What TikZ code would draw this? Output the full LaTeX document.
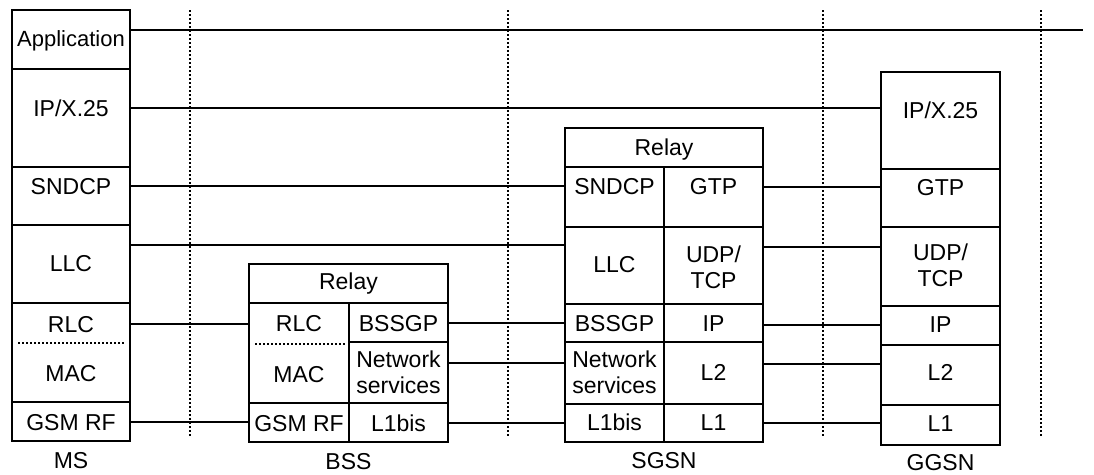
\documentclass[tikz,border=0pt]{standalone}
\usepackage{fontspec}
\setmainfont{Liberation Sans}
\newcommand\mkcell[5]{\node[cellbox, minimum width={(#4-#2)*1pt}, minimum height={(#5-#3)*1pt}] (#1) at (#2,#3) {};}
\begin{document}
\begin{tikzpicture}[x=1pt,y=-1pt,
  cellbox/.style={draw, line width=2pt, inner sep=0pt, outer sep=0pt, anchor=north west},
  txt/.style={font=\fontsize{23}{26}\selectfont, inner sep=0pt, align=center, anchor=base},
  conn/.style={line width=1.8pt},
  vsep/.style={line width=1.3pt, dash pattern=on 1.5pt off 2.5pt},
  hdiv/.style={line width=1.4pt, dash pattern=on 1.5pt off 2.5pt}]
\useasboundingbox (0,0) rectangle (1094,474);

% dotted separators
\foreach \xx in {190,508,823,1041} { \draw[vsep] (\xx,10) -- (\xx,438); }

% ---------- MS ----------
\mkcell{msapp}{12}{10}{130}{69}
\mkcell{msip}{12}{69}{130}{167}
\mkcell{mssn}{12}{167}{130}{225}
\mkcell{msllc}{12}{225}{130}{303}
\mkcell{msrm}{12}{303}{130}{402}
\mkcell{msrf}{12}{402}{130}{441}
\draw[hdiv] ([xshift=6pt]msrm.west |- 0,343) -- ([xshift=-6pt]msrm.east |- 0,343);
\node[txt, font=\fontsize{22}{24}\selectfont] (msappT) at (71,46) {Application};
\node[txt] (msipT) at (71,116) {IP/X.25};
\node[txt] (mssnT) at (71,194) {SNDCP};
\node[txt] (msllcT) at (71,271) {LLC};
\node[txt] (msrlcT) at (71,332) {RLC};
\node[txt] (msmacT) at (71,381) {MAC};
\node[txt] (msrfT) at (71,430) {GSM RF};
\node[txt] (msL) at (71,468) {MS};

% ---------- BSS ----------
\mkcell{bsrel}{249}{264}{448}{303}
\mkcell{bsrm}{249}{303}{349}{403}
\mkcell{bsrf}{249}{403}{349}{442}
\mkcell{bsgp}{349}{303}{448}{342}
\mkcell{bsns}{349}{342}{448}{403}
\mkcell{bsl1}{349}{403}{448}{442}
\draw[hdiv] ([xshift=6pt]bsrm.west |- 0,344) -- ([xshift=-3pt]bsrm.east |- 0,344);
\node[txt] (bsrelT) at (348.5,289) {Relay};
\node[txt] (bsrlcT) at (299,331) {RLC};
\node[txt] (bsmacT) at (299,382) {MAC};
\node[txt] (bsrfT) at (299,431) {GSM RF};
\node[txt] (bsgpT) at (398.5,331) {BSSGP};
\node[txt] (bsnsT) at (398.5,393) {Network\\services};
\node[txt] (bsl1T) at (398.5,431) {L1bis};
\node[txt] (bsL) at (348.5,469) {BSS};

% ---------- SGSN ----------
\mkcell{sgrel}{565}{128}{763}{167}
\mkcell{sgsn}{565}{167}{664}{227}
\mkcell{sgllc}{565}{227}{664}{304}
\mkcell{sggp}{565}{304}{664}{342}
\mkcell{sgns}{565}{342}{664}{404}
\mkcell{sgl1b}{565}{404}{664}{442}
\mkcell{sggtp}{664}{167}{763}{227}
\mkcell{sgudp}{664}{227}{763}{304}
\mkcell{sgip}{664}{304}{763}{342}
\mkcell{sgl2}{664}{342}{763}{404}
\mkcell{sgl1}{664}{404}{763}{442}
\node[txt] (sgrelT) at (664,155) {Relay};
\node[txt] (sgsnT) at (614.5,194) {SNDCP};
\node[txt] (sgllcT) at (614.5,272) {LLC};
\node[txt] (sggpT) at (614.5,331) {BSSGP};
\node[txt] (sgnsT) at (614.5,393) {Network\\services};
\node[txt] (sgl1bT) at (614.5,430) {L1bis};
\node[txt] (sggtpT) at (713.5,194) {GTP};
\node[txt] (sgudpT) at (713.5,288) {UDP/\\TCP};
\node[txt] (sgipT) at (713.5,331) {IP};
\node[txt] (sgl2T) at (713.5,380) {L2};
\node[txt] (sgl1T) at (713.5,430) {L1};
\node[txt] (sgL) at (664,468) {SGSN};

% ---------- GGSN ----------
\mkcell{ggip}{881}{72}{1000}{169}
\mkcell{gggtp}{881}{169}{1000}{227}
\mkcell{ggudp}{881}{227}{1000}{306}
\mkcell{ggipl}{881}{306}{1000}{345}
\mkcell{ggl2}{881}{345}{1000}{405}
\mkcell{ggl1}{881}{405}{1000}{445}
\node[txt] (ggipT) at (940.5,118) {IP/X.25};
\node[txt] (gggtpT) at (940.5,195) {GTP};
\node[txt] (ggudpT) at (940.5,286) {UDP/\\TCP};
\node[txt] (ggiplT) at (940.5,332) {IP};
\node[txt] (ggl2T) at (940.5,380) {L2};
\node[txt] (ggl1T) at (940.5,431) {L1};
\node[txt] (ggL) at (940.5,470) {GGSN};

% ---------- connectors ----------
\coordinate (appEnd) at (1083,30);
\draw[conn] (msapp.east |- appEnd) -- (appEnd);
\draw[conn] (msip.east |- 0,108) -- (ggip.west |- 0,108);
\draw[conn] (mssn.east |- 0,186) -- (sgsn.west |- 0,186);
\draw[conn] (msllc.east |- 0,245) -- (sgllc.west |- 0,245);
\draw[conn] (msrm.east |- 0,324) -- (bsrm.west |- 0,324);
\draw[conn] (msrf.east |- 0,422) -- (bsrf.west |- 0,422);
\draw[conn] (bsgp.east |- 0,323) -- (sggp.west |- 0,323);
\draw[conn] (bsns.east |- 0,363) -- (sgns.west |- 0,363);
\draw[conn] (bsl1.east |- 0,423) -- (sgl1b.west |- 0,423);
\draw[conn] (sggtp.east |- 0,187) -- (gggtp.west |- 0,187);
\draw[conn] (sgudp.east |- 0,247) -- (ggudp.west |- 0,247);
\draw[conn] (sgip.east |- 0,325) -- (ggipl.west |- 0,325);
\draw[conn] (sgl2.east |- 0,364) -- (ggl2.west |- 0,364);
\draw[conn] (sgl1.east |- 0,423) -- (ggl1.west |- 0,423);
\end{tikzpicture}
\end{document}
